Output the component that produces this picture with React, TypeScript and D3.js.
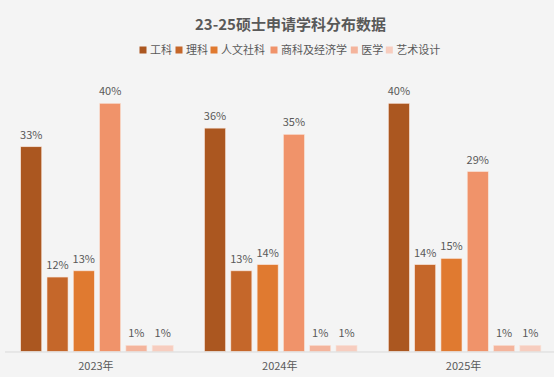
import React from "react";
import * as d3 from "d3";

const years = ["2023年", "2024年", "2025年"];
const subjects = ["工科", "理科", "人文社科", "商科及经济学", "医学", "艺术设计"];
const colors = ["#AB5720", "#C5672A", "#E07A30", "#F0936A", "#F4B49C", "#F7CDBF"];
const values2023 = [33, 12, 13, 40, 1, 1];
const values2024 = [36, 13, 14, 35, 1, 1];
const values2025 = [40, 14, 15, 29, 1, 1];
const title = "23-25硕士申请学科分布数据";

const W = 554;
const H = 377;
const FONT = "'Noto Sans CJK SC', 'Microsoft YaHei', sans-serif";

export default function App() {
  const series = [values2023, values2024, values2025];
  const baseline = 351.5;
  const x0 = d3.scaleBand<string>().domain(years).range([5, 556.5]).paddingInner(0).paddingOuter(0);
  const x1 = d3
    .scaleBand<string>()
    .domain(subjects)
    .range([15.7, 15.7 + 152.5])
    .paddingInner(0.2)
    .paddingOuter(0);
  const y = d3.scaleLinear().domain([0, 40]).range([baseline, 103.3]);

  // legend layout
  const legendX = [139.5, 175.5, 210.5, 270.5, 350.8, 385.8];

  return (
    <svg width={W} height={H} style={{ position: "absolute", left: 0, top: 0, background: "#F4F4F4" }}>
      <rect x={0} y={0} width={W} height={H} fill="#F4F4F4" />
      <text x={290.5} y={29.5} textAnchor="middle" fontFamily={FONT} fontWeight="bold" fontSize={15} fill="#595959">
        {title}
      </text>
      {subjects.map((s, i) => (
        <g key={s}>
          <rect x={legendX[i]} y={46.5} width={7} height={7} fill={colors[i]} />
          <text x={legendX[i] + 10.5} y={54} fontFamily={FONT} fontSize={11} fill="#595959">
            {s}
          </text>
        </g>
      ))}
      {years.map((yr, gi) => (
        <g key={yr} transform={`translate(${x0(yr)},0)`}>
          {subjects.map((s, i) => {
            const v = series[gi][i];
            const bx = x1(s)!;
            const bw = x1.bandwidth();
            return (
              <g key={s}>
                <rect
                  x={bx}
                  y={y(v)}
                  width={bw}
                  height={baseline - y(v)}
                  fill={colors[i]}
                  stroke="#F8E4DA"
                  strokeWidth={0.6}
                />
                <text
                  x={bx + bw / 2}
                  y={y(v) - 8}
                  textAnchor="middle"
                  fontFamily={FONT}
                  fontSize={11}
                  fill="#595959"
                >
                  {v}%
                </text>
              </g>
            );
          })}
          <text
            x={x0.bandwidth() / 2 - 1}
            y={370}
            textAnchor="middle"
            fontFamily={FONT}
            fontSize={11}
            fill="#595959"
          >
            {yr}
          </text>
        </g>
      ))}
      <line x1={5} x2={W} y1={baseline + 0.5} y2={baseline + 0.5} stroke="#D9D9D9" strokeWidth={1} />
    </svg>
  );
}
